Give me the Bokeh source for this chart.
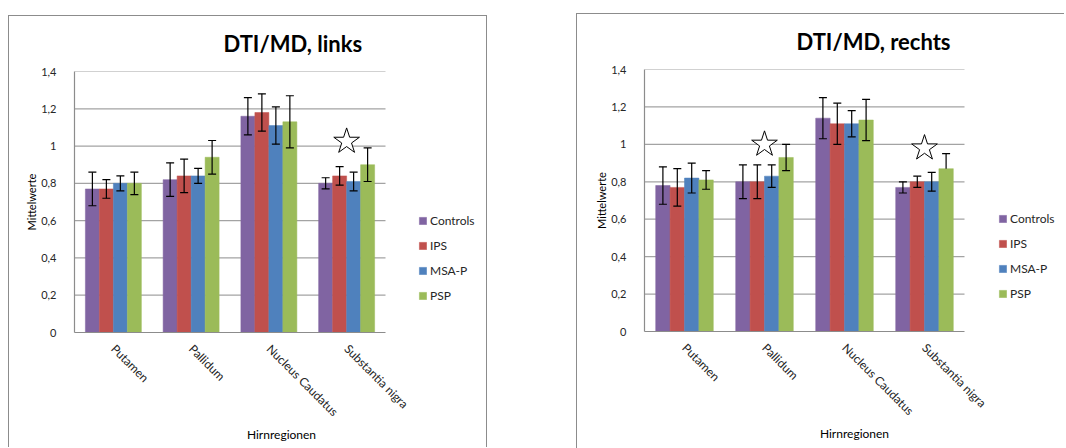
import math
from bokeh.plotting import figure
from bokeh.models import (ColumnDataSource, Range1d, FixedTicker,
                          CustomJSTickFormatter, Legend, LegendItem, Spacer)
from bokeh.transform import dodge
from bokeh.layouts import row, column
from bokeh.embed import file_html
from bokeh.resources import INLINE

# ---------------- data ----------------
regions = ["Putamen", "Pallidum", "Nucleus Caudatus", "Substantia nigra"]
groups = ["Controls", "IPS", "MSA-P", "PSP"]
colors = ["#8064A2", "#C0504D", "#4F81BD", "#9BBB59"]
y_ticks = [0, 0.2, 0.4, 0.6, 0.8, 1.0, 1.2, 1.4]
y_tick_labels = ["0", "0,2", "0,4", "0,6", "0,8", "1", "1,2", "1,4"]

# DTI/MD, links
links_controls = [0.77, 0.82, 1.16, 0.80]
links_ips = [0.77, 0.84, 1.18, 0.84]
links_msap = [0.80, 0.84, 1.11, 0.81]
links_psp = [0.80, 0.94, 1.13, 0.90]
links_err_controls = [0.09, 0.09, 0.10, 0.03]
links_err_ips = [0.05, 0.09, 0.10, 0.05]
links_err_msap = [0.04, 0.04, 0.10, 0.05]
links_err_psp = [0.06, 0.09, 0.14, 0.09]
links_err_psp_lower = [0.06, 0.09, 0.14, 0.09]
links_star_regions = ["Substantia nigra"]
links_star_values = [1.025]

# DTI/MD, rechts
rechts_controls = [0.78, 0.80, 1.14, 0.77]
rechts_ips = [0.77, 0.80, 1.11, 0.80]
rechts_msap = [0.82, 0.83, 1.11, 0.80]
rechts_psp = [0.81, 0.93, 1.13, 0.87]
rechts_err_controls = [0.10, 0.09, 0.11, 0.03]
rechts_err_ips = [0.10, 0.09, 0.11, 0.03]
rechts_err_msap = [0.08, 0.06, 0.07, 0.05]
rechts_err_psp = [0.05, 0.07, 0.11, 0.08]
rechts_err_psp_lower = [0.05, 0.07, 0.11, 0.0]
rechts_star_regions = ["Pallidum", "Substantia nigra"]
rechts_star_values = [1.0, 0.98]

FONT = "Lato"
offsets = [-0.27, -0.09, 0.09, 0.27]
BORDER = "1px solid #8c8c8c"


def make_chart(title, series, errs_up, errs_lo, star_regions, star_values,
               width, height, mb_left, mb_top, mb_bottom, data_w,
               title_offset, legend_xy, styles=None):
    n = len(regions)
    frame_w = width - mb_left
    x_end = n * frame_w / data_w          # room to the right of the data for the legend
    kw = dict(styles=styles) if styles else {}
    p = figure(x_range=Range1d(0, x_end), y_range=Range1d(0, 1.4),
               width=width, height=height,
               min_border_left=mb_left, min_border_right=0,
               min_border_top=mb_top, min_border_bottom=mb_bottom,
               output_backend="svg", toolbar_location=None,
               background_fill_color="white", border_fill_color="white", **kw)
    p.outline_line_color = None

    xc = [i + 0.5 for i in range(n)]
    data = {"xc": xc}
    for i, (vals, eu, el) in enumerate(zip(series, errs_up, errs_lo)):
        data[f"v{i}"] = vals
        data[f"up{i}"] = [v + e for v, e in zip(vals, eu)]
        data[f"lo{i}"] = [v - e for v, e in zip(vals, el)]
        data[f"locap{i}"] = [v - e if e > 0 else float("nan") for v, e in zip(vals, el)]
    src = ColumnDataSource(data)

    # horizontal gridlines over the data area only
    p.segment(x0=0, x1=n, y0=y_ticks[1:], y1=y_ticks[1:],
              line_color="#a3a3a3", line_width=1.2)

    items = []
    for i in range(4):
        xd = dodge("xc", offsets[i])
        r = p.vbar(x=xd, top=f"v{i}", width=0.18, source=src,
                   fill_color=colors[i], line_color=colors[i], line_width=0.5)
        items.append(LegendItem(label=groups[i], renderers=[r]))
    for i in range(4):
        xd = dodge("xc", offsets[i])
        p.segment(x0=xd, y0=f"lo{i}", x1=xd, y1=f"up{i}", source=src,
                  line_color="black", line_width=1.2)
        p.scatter(x=xd, y=f"up{i}", marker="dash", size=8, source=src,
                  line_color="black", line_width=1.2)
        p.scatter(x=xd, y=f"locap{i}", marker="dash", size=8, source=src,
                  line_color="black", line_width=1.2)

    star_src = ColumnDataSource({"x": [regions.index(r) + 0.5 for r in star_regions],
                                 "val": star_values})
    p.scatter(x="x", y="val", marker="star", size=27, source=star_src,
              fill_color="white", line_color="black", line_width=1)

    # title
    p.title.text = title
    p.title.align = "left"
    p.title.vertical_align = "top"
    p.title.offset = title_offset
    p.title.text_font = FONT
    p.title.text_font_size = "22px"
    p.title.text_font_style = "bold"
    p.title.text_color = "black"
    p.title.standoff = 26

    # axes
    p.yaxis.ticker = FixedTicker(ticks=y_ticks)
    p.yaxis.formatter = CustomJSTickFormatter(
        args={"labels": y_tick_labels},
        code="return labels[Math.round(tick / 0.2)];")
    p.xaxis.ticker = FixedTicker(ticks=xc)
    p.xaxis.formatter = CustomJSTickFormatter(
        args={"labels": regions},
        code="return labels[Math.round(tick - 0.5)];")
    p.xaxis.bounds = (0, n)
    for ax in (p.xaxis[0], p.yaxis[0]):
        ax.axis_line_color = "#8c8c8c"
        ax.axis_line_width = 1.2
        ax.major_tick_line_color = None
        ax.minor_tick_line_color = None
        ax.major_label_text_font = FONT
        ax.major_label_text_color = "#262626"
        ax.axis_label_text_font = FONT
        ax.axis_label_text_font_style = "normal"
        ax.axis_label_text_color = "#000000"
    p.yaxis.major_label_text_font_size = "11px"
    p.yaxis.major_label_standoff = 12
    p.yaxis.axis_label = "Mittelwerte"
    p.yaxis.axis_label_text_font_size = "11px"
    p.yaxis.axis_label_standoff = 0
    p.xaxis.major_label_orientation = -math.pi / 4
    p.xaxis.major_label_text_font_size = "12px"
    p.xaxis.major_label_standoff = 8
    p.xaxis.axis_label = "Hirnregionen"
    p.xaxis.axis_label_text_font_size = "12px"
    p.xaxis.axis_label_standoff = 0

    p.xgrid.grid_line_color = None
    p.ygrid.grid_line_color = None

    legend = Legend(items=items, location=legend_xy, orientation="vertical",
                    glyph_width=9, glyph_height=9, label_height=14,
                    spacing=10, padding=0, margin=0, label_standoff=3,
                    label_text_font=FONT, label_text_font_size="12px",
                    label_text_color="#262626",
                    background_fill_alpha=0, border_line_color=None)
    p.add_layout(legend, "center")
    return p


p1 = make_chart("DTI/MD, links",
                [links_controls, links_ips, links_msap, links_psp],
                [links_err_controls, links_err_ips, links_err_msap, links_err_psp],
                [links_err_controls, links_err_ips, links_err_msap, links_err_psp_lower],
                links_star_regions, links_star_values,
                479, 432, 65, 55, 116, 311,
                149, (344, 29),
                {"border-left": BORDER, "border-top": BORDER, "border-right": BORDER})

p2 = make_chart("DTI/MD, rechts",
                [rechts_controls, rechts_ips, rechts_msap, rechts_psp],
                [rechts_err_controls, rechts_err_ips, rechts_err_msap, rechts_err_psp],
                [rechts_err_controls, rechts_err_ips, rechts_err_msap, rechts_err_psp_lower],
                rechts_star_regions, rechts_star_values,
                487, 434, 67, 55, 117, 320,
                152, (354, 30))

layout = row(Spacer(width=8), column(Spacer(height=15), p1),
             Spacer(width=89),
             column(Spacer(height=13),
                    column(p2, styles={"border-left": BORDER, "border-top": BORDER})))
open("out.html", "w").write(file_html(layout, INLINE))
